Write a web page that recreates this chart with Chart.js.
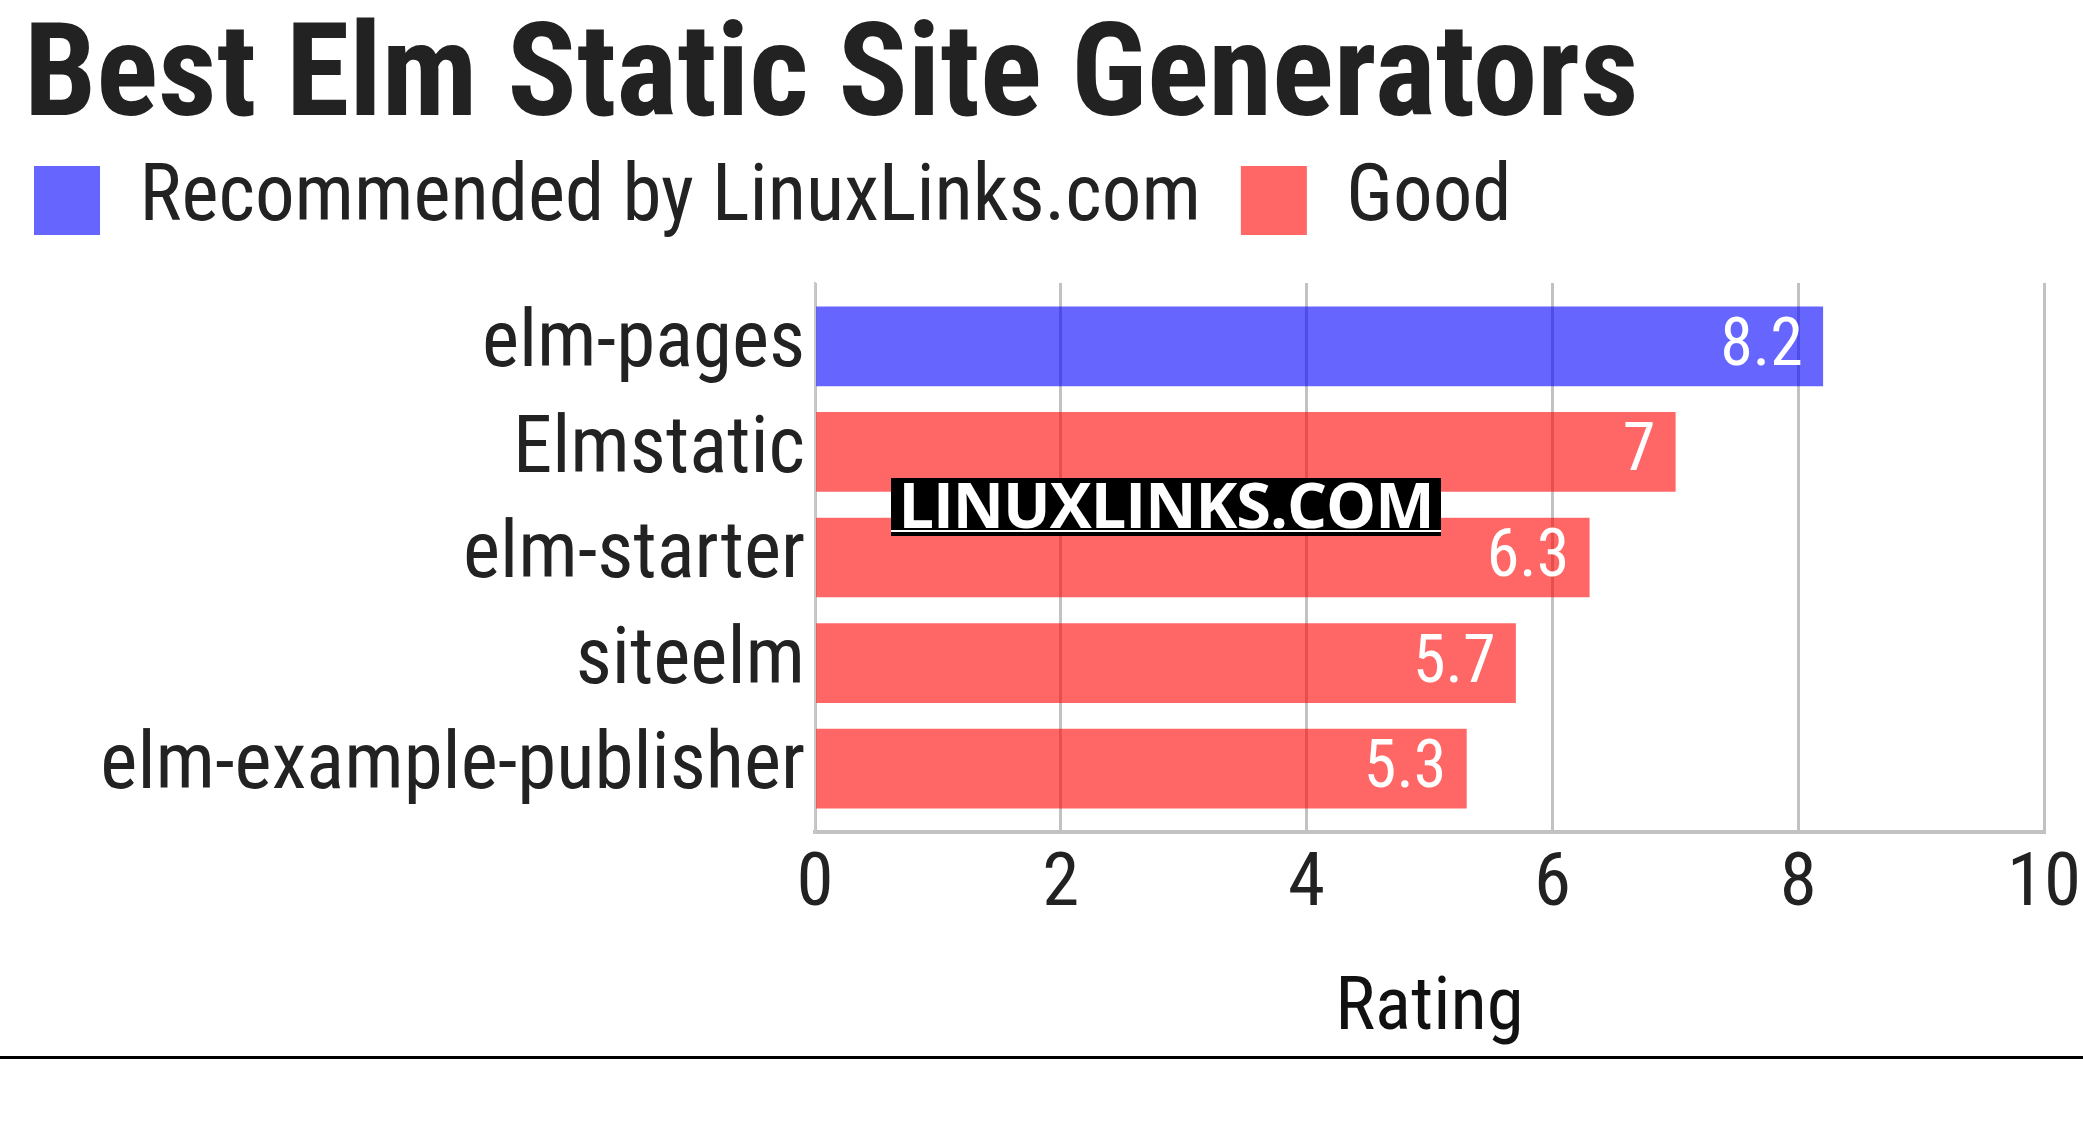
<!DOCTYPE html>
<html>
<head>
<meta charset="utf-8">
<script src="https://cdn.jsdelivr.net/npm/chart.js@4.4.1/dist/chart.umd.min.js"></script>
<style>
  html, body { margin: 0; padding: 0; background: #fff; }
  #wrap { position: relative; width: 2083px; height: 1145px; }
  #rule { position: absolute; left: 0; top: 1056px; width: 2083px; height: 3px; background: #000; }
  #mark {
    position: absolute; left: 891px; top: 478px; width: 550px;
    background: #000; padding-bottom: 4px;
  }
  #mark div {
    color: #fff; font: bold 63px 'Open Sans', sans-serif; line-height: 52px;
    text-align: center; border-bottom: 2px solid #fff; letter-spacing: -1px;
  }
</style>
</head>
<body>
<div id="wrap">
  <canvas id="chart" width="2083" height="1145"></canvas>
  <div id="mark"><div>LINUXLINKS.COM</div></div>
  <div id="rule"></div>
</div>
<script>
const categories = ['elm-pages', 'Elmstatic', 'elm-starter', 'siteelm', 'elm-example-publisher'];
const ratings = [8.2, 7, 6.3, 5.7, 5.3];
const tiers = ['Recommended by LinuxLinks.com', 'Good', 'Good', 'Good', 'Good'];
const tierNames = ['Recommended by LinuxLinks.com', 'Good'];
const tierColors = ['rgba(0,0,255,0.6)', 'rgba(255,0,0,0.6)'];
const xTicks = [0, 2, 4, 6, 8, 10];

const FONT = "'Roboto Condensed', 'Liberation Sans Narrow', 'DejaVu Sans Condensed', 'Arial Narrow', Roboto, sans-serif";
Chart.defaults.font.family = FONT;
Chart.defaults.color = '#222';

// white value labels at the end of each bar
const valueLabels = {
  id: 'valueLabels',
  afterDatasetsDraw(chart) {
    const ctx = chart.ctx;
    ctx.save();
    ctx.font = '66px ' + FONT;
    ctx.fillStyle = '#fff';
    ctx.textAlign = 'right';
    ctx.textBaseline = 'middle';
    chart.data.datasets.forEach((ds, di) => {
      chart.getDatasetMeta(di).data.forEach((bar, i) => {
        ctx.fillText(String(ds.data[i].x), bar.x - 20, bar.y + 2);
      });
    });
    ctx.restore();
  }
};

// legend sits a bit left of / closer to the title than chart.js puts it
const nudge = {
  id: 'nudge',
  afterLayout(chart) {
    chart.legend.left -= 30;
    chart.legend.top -= 33;
  }
};

const datasets = tierNames.map((name, t) => ({
  label: name,
  data: ratings.map((v, i) => ({ x: v, y: i })).filter((p, i) => tiers[i] === name),
  backgroundColor: tierColors[t],
  borderWidth: 0
}));

new Chart(document.getElementById('chart'), {
  type: 'bar',
  data: { datasets },
  plugins: [valueLabels, nudge],
  options: {
    responsive: false,
    devicePixelRatio: 1,
    animation: false,
    indexAxis: 'y',
    grouped: false,
    barThickness: 79,
    layout: { padding: { left: 24, right: 0, top: 0, bottom: 90 } },
    plugins: {
      title: {
        display: true,
        text: 'Best Elm Static Site Generators',
        align: 'start',
        color: '#222',
        font: { size: 129, weight: 'bold', lineHeight: 1 },
        padding: { top: 18, bottom: 7 }
      },
      legend: {
        display: true,
        align: 'start',
        labels: {
          boxWidth: 66,
          boxHeight: 69,
          padding: 40,
          color: '#222',
          font: { size: 79 }
        }
      },
      tooltip: { enabled: false }
    },
    scales: {
      x: {
        type: 'linear',
        min: 0,
        max: 10,
        afterBuildTicks: s => { s.ticks = xTicks.map(v => ({ value: v })); },
        afterFit: s => { s.paddingRight = 39; },
        ticks: { font: { size: 75 }, color: '#222', padding: 9 },
        grid: { color: '#c2c2c2', lineWidth: 3, drawTicks: false },
        border: { color: '#c2c2c2', width: 4 },
        title: {
          display: true,
          text: 'Rating',
          color: '#111',
          font: { size: 75 },
          padding: { top: 25, bottom: 0 }
        }
      },
      y: {
        type: 'linear',
        offset: false,
        reverse: true,
        min: -0.6,
        max: 4.6,
        afterBuildTicks: s => { s.ticks = categories.map((c, i) => ({ value: i })); },
        afterFit: s => { s.width = 815 - 24; },
        ticks: {
          autoSkip: false,
          callback: v => categories[v],
          font: { size: 79 },
          color: '#222',
          padding: 10
        },
        grid: { display: false, drawTicks: false },
        border: { color: '#c8c8c8', width: 2 }
      }
    }
  }
});
</script>
</body>
</html>
